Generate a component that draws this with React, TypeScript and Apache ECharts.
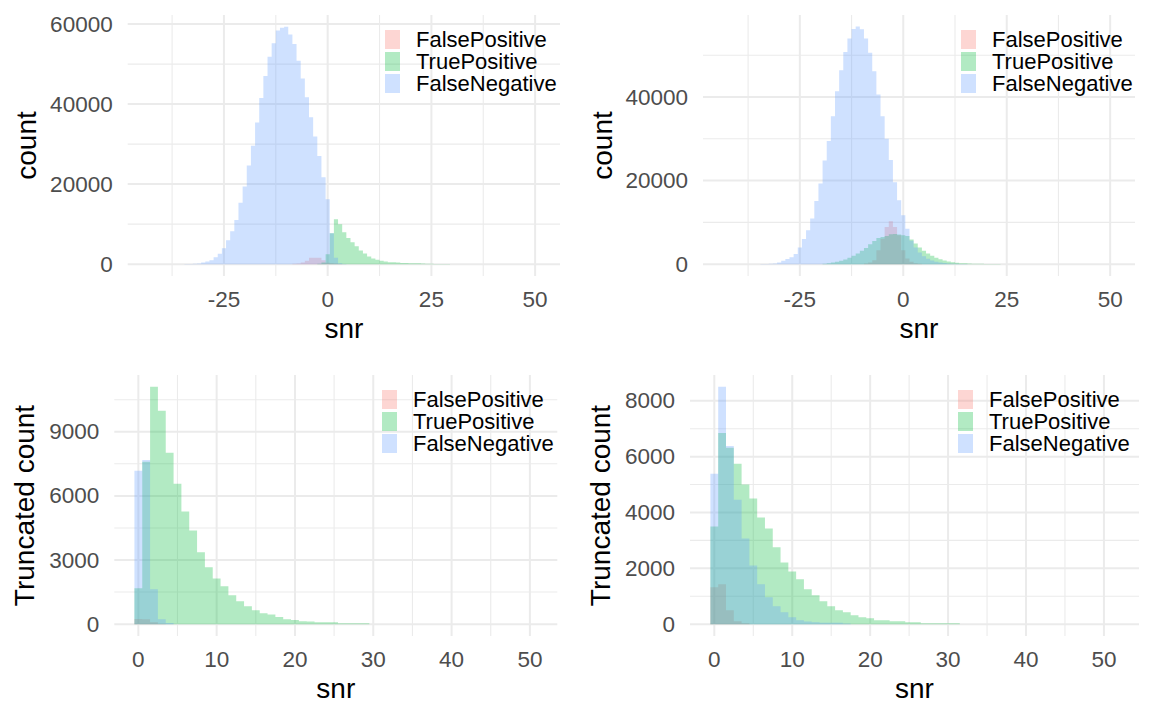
import React, { useEffect, useRef } from "react";
import * as echarts from "echarts";

const FONT = "'Liberation Sans', Arial, sans-serif";
const seriesNames = ["FalsePositive", "TruePositive", "FalseNegative"];
const seriesColors = ["rgba(248,118,109,0.3)", "rgba(0,186,56,0.3)", "rgba(97,156,255,0.3)"];

// ---- Panel 1 (top-left): all snr, count ----
const p1FPStart = -8;
const p1FP = [80, 170, 415, 830, 1580, 1580, 1580, 1000, 330, 250, 160, 60];
const p1TPStart = -2;
const p1TP = [100, 400, 2490, 7700, 11200, 9960, 7970, 6560, 5480, 4480, 3400, 2660, 1900, 1410, 1080, 830, 660, 480, 450, 420, 280, 260, 250, 230, 200, 160, 110, 90, 60, 40, 30, 20];
const p1FNStart = -34;
const p1FN = [30, 60, 100, 170, 420, 660, 1000, 1750, 2570, 4000, 6000, 8200, 11000, 15350, 19400, 24650, 29600, 35400, 41500, 47000, 51800, 55200, 58400, 59100, 59300, 57400, 55000, 50800, 46400, 41700, 36700, 31900, 27000, 21700, 16200, 7700, 1600, 230, 60];

// ---- Panel 2 (top-right): all snr, count ----
const p2FPStart = -9;
const p2FP = [150, 400, 950, 3300, 6100, 8900, 10240, 8900, 6900, 3300, 1350, 550, 240, 100];
const p2TPStart = -19;
const p2TP = [100, 240, 400, 556, 794, 1110, 1510, 1985, 2540, 3180, 3890, 4760, 5560, 6270, 6500, 6750, 7150, 7230, 7070, 6900, 6750, 5880, 4920, 3970, 3180, 2540, 1985, 1510, 1190, 870, 635, 476, 318, 240, 200, 150, 120, 100, 80, 60, 50, 40, 30];
const p2FNStart = -34;
const p2FN = [30, 60, 100, 160, 400, 800, 1200, 1670, 2400, 4000, 6000, 8100, 10900, 15100, 19300, 24800, 29500, 35400, 41400, 46400, 50800, 54000, 56300, 56900, 56200, 54000, 50600, 46200, 40600, 35400, 30000, 24900, 19600, 15300, 11700, 8500, 5600, 4000, 2800, 1900, 1300, 900, 600, 400, 250, 150, 100, 70, 50, 30];

// ---- Panel 3 (bottom-left): snr >= 0, truncated count ----
const p3FPStart = 0;
const p3FP = [240, 230, 90, 20];
const p3TPStart = 0;
const p3TP = [1680, 7600, 11100, 9980, 8020, 6570, 5270, 4380, 3360, 2660, 2140, 1770, 1350, 1070, 840, 650, 510, 450, 330, 230, 190, 140, 120, 93, 93, 93, 47, 47, 47, 47];
const p3FNStart = 0;
const p3FN = [7180, 7680, 1630, 233, 50];

// ---- Panel 4 (bottom-right): snr >= 0, truncated count ----
const p4FPStart = 0;
const p4FP = [1320, 1430, 500, 107, 36];
const p4TPStart = 0;
const p4TP = [3500, 6850, 6320, 5750, 5000, 4500, 3820, 3430, 2750, 2210, 1890, 1610, 1250, 1035, 820, 640, 500, 430, 320, 250, 214, 143, 143, 107, 107, 71, 71, 36, 36, 36, 36, 36];
const p4FNStart = 0;
const p4FN = [5390, 8500, 6380, 4460, 3070, 2100, 1430, 960, 640, 430, 250, 143, 95, 71, 48, 48, 48, 24];

// ---- tick labels / grid lines ----
const xMajorAll = [-25, 0, 25, 50];
const xMinorAll = [-37.5, -12.5, 12.5, 37.5];
const xMajorTrunc = [0, 10, 20, 30, 40, 50];
const xMinorTrunc = [5, 15, 25, 35, 45];
const p1YMajor = [0, 20000, 40000, 60000];
const p1YMinor = [10000, 30000, 50000];
const p2YMajor = [0, 20000, 40000];
const p2YMinor = [10000, 30000, 50000];
const p3YMajor = [0, 3000, 6000, 9000];
const p3YMinor = [1500, 4500, 7500, 10500];
const p4YMajor = [0, 2000, 4000, 6000, 8000];
const p4YMinor = [1000, 3000, 5000, 7000];

const toPairs = (start: number, counts: number[]) => counts.map((c, i) => [start + i, c]);

function histRender(params: any, api: any) {
  if (params.dataIndexInside !== 0) return null;
  const n = params.dataInsideLength;
  const pts: number[][] = [];
  const first = api.value(0, 0);
  pts.push(api.coord([first - 0.5, 0]));
  for (let i = 0; i < n; i++) {
    const x = api.value(0, i);
    const y = api.value(1, i);
    pts.push(api.coord([x - 0.5, y]));
    pts.push(api.coord([x + 0.5, y]));
  }
  const last = api.value(0, n - 1);
  pts.push(api.coord([last + 0.5, 0]));
  return {
    type: "polygon",
    shape: { points: pts },
    style: { fill: api.visual("color"), stroke: null },
  };
}

function gridRender(params: any, api: any) {
  const cs = params.coordSys;
  const v = api.value(0);
  const major = api.value(1) === 1;
  const orient = api.value(2);
  const style = { stroke: "#EBEBEB", lineWidth: major ? 2 : 1.1 };
  if (orient === 0) {
    const px = api.coord([v, 0])[0];
    return { type: "line", shape: { x1: px, y1: cs.y, x2: px, y2: cs.y + cs.height }, style };
  }
  const py = api.coord([0, v])[1];
  return { type: "line", shape: { x1: cs.x, y1: py, x2: cs.x + cs.width, y2: py }, style };
}

const panels = [
  {
    grid: { left: 127.7, top: 15, width: 432.3, height: 261 },
    x: [-48.2, 56], y: [-2965, 62265],
    xMajor: xMajorAll, xMinor: xMinorAll, yMajor: p1YMajor, yMinor: p1YMinor,
    yName: "count", yGap: 87,
    data: [toPairs(p1FPStart, p1FP), toPairs(p1TPStart, p1TP), toPairs(p1FNStart, p1FN)],
    legend: { left: 385, top: 30 },
  },
  {
    grid: { left: 703, top: 15, width: 432, height: 261 },
    x: [-48.4, 56], y: [-2840, 59640],
    xMajor: xMajorAll, xMinor: xMinorAll, yMajor: p2YMajor, yMinor: p2YMinor,
    yName: "count", yGap: 87,
    data: [toPairs(p2FPStart, p2FP), toPairs(p2TPStart, p2TP), toPairs(p2FNStart, p2FN)],
    legend: { left: 961, top: 30 },
  },
  {
    grid: { left: 114.3, top: 375, width: 443, height: 261 },
    x: [-3.07, 53.5], y: [-555, 11655],
    xMajor: xMajorTrunc, xMinor: xMinorTrunc, yMajor: p3YMajor, yMinor: p3YMinor,
    yName: "Truncated count", yGap: 76,
    data: [toPairs(p3FPStart, p3FP), toPairs(p3TPStart, p3TP), toPairs(p3FNStart, p3FN)],
    legend: { left: 382, top: 390 },
  },
  {
    grid: { left: 690, top: 375, width: 449, height: 261 },
    x: [-3.12, 54.5], y: [-425, 8925],
    xMajor: xMajorTrunc, xMinor: xMinorTrunc, yMajor: p4YMajor, yMinor: p4YMinor,
    yName: "Truncated count", yGap: 76,
    data: [toPairs(p4FPStart, p4FP), toPairs(p4TPStart, p4TP), toPairs(p4FNStart, p4FN)],
    legend: { left: 958, top: 390 },
  },
];

function buildOption() {
  const grids: any[] = [];
  const xAxes: any[] = [];
  const yAxes: any[] = [];
  const series: any[] = [];
  const legends: any[] = [];
  panels.forEach((p, i) => {
    grids.push({ ...p.grid, containLabel: false });
    xAxes.push({
      type: "value", gridIndex: i, min: p.x[0], max: p.x[1],
      axisLine: { show: false }, axisTick: { show: false }, splitLine: { show: false },
      axisLabel: {
        customValues: p.xMajor, formatter: (v: number) => String(v),
        color: "#4D4D4D", fontSize: 22.5, fontFamily: FONT, margin: 12,
      },
      name: "snr", nameLocation: "middle", nameGap: 38,
      nameTextStyle: { fontSize: 28, color: "#000", fontFamily: FONT },
    });
    yAxes.push({
      type: "value", gridIndex: i, min: p.y[0], max: p.y[1],
      axisLine: { show: false }, axisTick: { show: false }, splitLine: { show: false },
      axisLabel: {
        customValues: p.yMajor, formatter: (v: number) => String(v),
        color: "#4D4D4D", fontSize: 22.5, fontFamily: FONT, margin: 15,
      },
      name: p.yName, nameLocation: "middle", nameGap: p.yGap,
      nameTextStyle: { fontSize: 28, color: "#000", fontFamily: FONT },
    });
    const gridData: number[][] = [];
    p.xMinor.forEach((v) => gridData.push([v, 0, 0]));
    p.yMinor.forEach((v) => gridData.push([v, 0, 1]));
    p.xMajor.forEach((v) => gridData.push([v, 1, 0]));
    p.yMajor.forEach((v) => gridData.push([v, 1, 1]));
    series.push({
      type: "custom", name: "grid" + i, xAxisIndex: i, yAxisIndex: i,
      renderItem: gridRender, data: gridData, silent: true, z: 1,
    });
    p.data.forEach((d, k) => {
      series.push({
        type: "custom", name: seriesNames[k], xAxisIndex: i, yAxisIndex: i,
        renderItem: histRender, data: d, silent: true, z: 2 + k,
        itemStyle: { color: seriesColors[k] },
      });
    });
    legends.push({
      orient: "vertical", left: p.legend.left, top: p.legend.top - 1.5, padding: 0,
      itemWidth: 15, itemHeight: 19, itemGap: 0, icon: "rect",
      data: seriesNames, selectedMode: false,
      textStyle: { fontSize: 22, color: "#000", fontFamily: FONT, lineHeight: 22, padding: [0, 0, 0, 11] },
    });
  });
  return {
    animation: false,
    backgroundColor: "#ffffff",
    color: seriesColors,
    grid: grids, xAxis: xAxes, yAxis: yAxes, series, legend: legends,
  };
}

export default function App() {
  const ref = useRef<HTMLDivElement>(null);
  useEffect(() => {
    if (!ref.current) return;
    const chart = echarts.init(ref.current, undefined, { renderer: "svg" });
    chart.setOption(buildOption() as any);
    return () => chart.dispose();
  }, []);
  return <div ref={ref} style={{ position: "fixed", left: 0, top: 0, width: 1152, height: 720, background: "#fff" }} />;
}
